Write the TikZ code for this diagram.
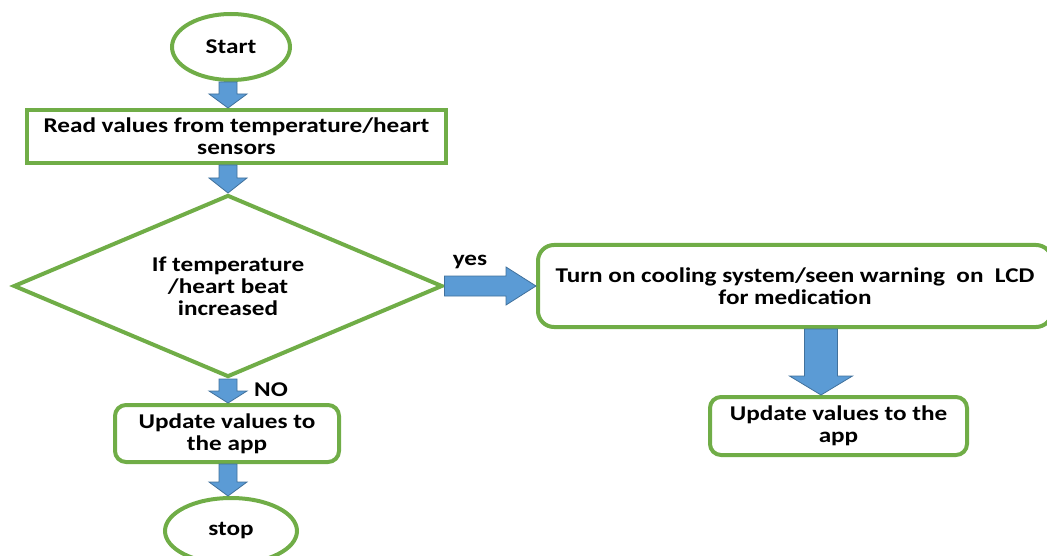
\documentclass[tikz,border=0pt]{standalone}
\usepackage{fontspec}
\setmainfont[FakeStretch=1.2]{Carlito}
\usetikzlibrary{shapes.geometric,calc}
\definecolor{boxgreen}{HTML}{70AD47}
\definecolor{arrowblue}{HTML}{5B9BD5}
\definecolor{arrowedge}{HTML}{41719C}
% block arrow: from, to, shaft half width, head half width, head length
\newcommand{\fatarrow}[5]{%
  \coordinate (fa) at ($#2!#5!#1$);
  \filldraw[fat] ($#1!#3!90:#2$) -- ($(fa)!#3!90:#2$) -- ($(fa)!#4!90:#2$) -- #2
    -- ($(fa)!#4!-90:#2$) -- ($(fa)!#3!-90:#2$) -- ($#1!#3!-90:#2$) -- cycle;}
\tikzset{
  fat/.style={fill=arrowblue,draw=arrowedge,line width=0.8pt,line join=miter},
  every node/.style={font=\fontsize{21}{22}\selectfont\bfseries,align=center},
  term/.style={draw=boxgreen,line width=4pt,ellipse,inner sep=0pt},
  proc/.style={draw=boxgreen,line width=4pt,rectangle,inner sep=0pt},
  rproc/.style={proc,rounded corners=11pt},
  cond/.style={draw=boxgreen,line width=4pt,diamond,aspect=2.36,inner sep=0pt}
}
\begin{document}
\begin{tikzpicture}[x=1pt,y=-1pt]
  \useasboundingbox (0,0) rectangle (1047,556);
  \node[term,minimum width=118pt,minimum height=66pt] (start) at (231,47) {Start};
  \node[proc,minimum width=419pt,minimum height=53pt] (read) at (236.5,136.5)
    {Read values from temperature/heart\\sensors};
  \node[cond,minimum width=429pt,minimum height=182pt] (dec) at (228,286)
    {If temperature\\/heart beat\\increased};
  \node[rproc,minimum width=224pt,minimum height=57pt] (upl) at (227,433.5)
    {Update values to\\the app};
  \node[term,minimum width=132pt,minimum height=66pt] (stop) at (231,531) {stop};
  \node[rproc,rounded corners=16pt,minimum width=514pt,minimum height=82pt] (act) at (795,286)
    {Turn on cooling system/seen warning\ \ on\ \ LCD\\for medication};
  \node[rproc,minimum width=257pt,minimum height=58pt] (upr) at (838.5,426)
    {Update values to the\\app};
  \node (yes) at (470,262) {yes};
  \node (no) at (271,390) {NO};
  \coordinate (r) at (821,0);

  \fatarrow{(start.south -| dec.north)}{(read.north -| dec.north)}{9pt}{19pt}{14pt}
  \fatarrow{(read.south -| dec.north)}{(dec.north)}{9pt}{19pt}{15pt}
  \fatarrow{(dec.south)}{(upl.north -| dec.south)}{9pt}{19pt}{12pt}
  \fatarrow{(upl.south -| dec.south)}{(stop.north -| dec.south)}{9pt}{19pt}{14pt}
  \fatarrow{(dec.east)}{(act.west)}{10pt}{19pt}{30pt}
  \fatarrow{(act.south -| r)}{(upr.north -| r)}{16.5pt}{31.5pt}{19pt}
\end{tikzpicture}
\end{document}
